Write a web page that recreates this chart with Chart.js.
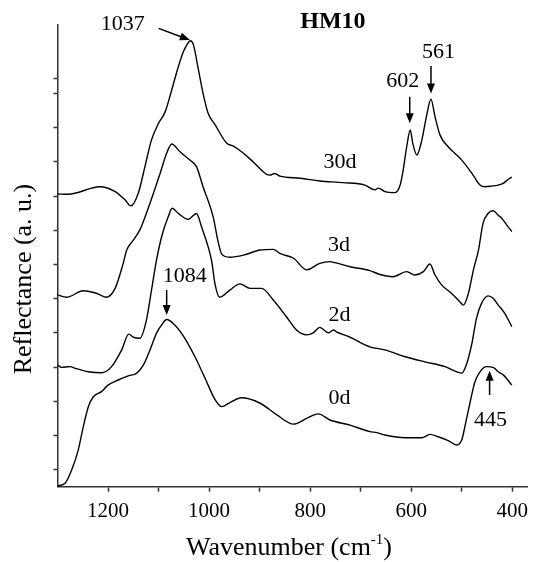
<!DOCTYPE html>
<html lang="en">
<head>
  <meta charset="UTF-8">
  <title>HM10 reflectance spectra</title>
  <style>
    body { margin: 0; background: #fff; }
    #spectra { display: block; }
  </style>
</head>
<body>
  <canvas id="spectra" width="534" height="562"></canvas>

  <script src="https://cdn.jsdelivr.net/npm/chart.js@4.4.1/dist/chart.umd.min.js"></script>
  <script>
// wavenumbers (cm-1) and reflectance (a. u., curves are offset)
const wn30 = [1300, 1279, 1216, 1186, 1166, 1155, 1140, 1127, 1114, 1100, 1087, 1074, 1061, 1051, 1044, 1037, 1031, 1021, 1012, 1002, 988, 965, 952, 932, 913, 886, 880, 870, 860, 820, 781, 735, 692, 672, 665, 652, 632, 622, 616, 609, 602, 597, 589, 579, 570, 561, 553, 543, 527, 514, 500, 480, 464, 454, 441, 428, 418, 408, 401];
const r30  = [8.56, 8.55, 8.77, 8.63, 8.38, 8.21, 8.59, 9.36, 10.14, 10.63, 10.96, 11.6, 12.28, 12.72, 12.92, 13.04, 12.92, 12.18, 11.5, 10.92, 10.58, 10.04, 9.96, 9.75, 9.5, 9.13, 9.11, 9.16, 9.08, 9.02, 8.94, 8.89, 8.82, 8.68, 8.73, 8.63, 8.6, 8.82, 9.26, 9.94, 10.43, 10.04, 9.7, 10.14, 10.82, 11.33, 10.82, 10.28, 9.94, 9.75, 9.55, 9.16, 8.82, 8.77, 8.79, 8.82, 8.87, 8.99, 9.05];

const wn3 = [1300, 1282, 1249, 1222, 1204, 1186, 1170, 1163, 1150, 1137, 1117, 1097, 1084, 1074, 1058, 1038, 1025, 1012, 992, 982, 975, 959, 932, 899, 873, 860, 833, 807, 781, 761, 751, 721, 682, 665, 636, 609, 593, 576, 563, 553, 540, 520, 504, 497, 487, 477, 467, 458, 448, 438, 428, 421, 411, 401];
const r3  = [5.61, 5.54, 5.73, 5.65, 5.54, 5.8, 6.53, 6.92, 7.21, 7.51, 8.29, 9.16, 9.75, 10.02, 9.8, 9.55, 9.36, 8.77, 7.89, 7.15, 6.8, 6.71, 6.77, 6.92, 6.94, 6.82, 6.68, 6.34, 6.53, 6.58, 6.55, 6.43, 6.32, 6.22, 6.14, 6.29, 6.19, 6.29, 6.51, 6.19, 5.9, 5.65, 5.41, 5.31, 5.65, 6.34, 6.92, 7.7, 7.99, 8.07, 7.94, 7.85, 7.65, 7.46];

const wn2 = [1300, 1292, 1275, 1265, 1239, 1213, 1193, 1173, 1159, 1150, 1137, 1124, 1114, 1104, 1094, 1081, 1073, 1061, 1041, 1025, 1015, 1002, 995, 988, 979, 959, 939, 919, 896, 873, 847, 827, 807, 794, 781, 764, 754, 748, 721, 682, 652, 612, 573, 533, 510, 500, 490, 480, 471, 461, 448, 438, 428, 415, 401];
const r2  = [3.56, 3.49, 3.51, 3.46, 3.36, 3.33, 3.51, 4.0, 4.46, 4.37, 4.34, 4.87, 5.75, 6.63, 7.31, 7.89, 8.14, 7.99, 7.82, 7.99, 7.6, 7.02, 6.6, 5.9, 5.54, 5.75, 5.93, 5.8, 5.8, 5.46, 4.97, 4.58, 4.44, 4.5, 4.66, 4.5, 4.58, 4.53, 4.37, 4.09, 4.0, 3.8, 3.65, 3.51, 3.36, 3.32, 3.61, 4.19, 4.92, 5.36, 5.58, 5.51, 5.31, 5.07, 4.68];

const wn0 = [1300, 1285, 1272, 1259, 1249, 1239, 1229, 1213, 1200, 1180, 1160, 1143, 1130, 1117, 1104, 1094, 1084, 1068, 1048, 1028, 1008, 988, 975, 959, 936, 899, 866, 833, 807, 784, 761, 721, 682, 668, 652, 612, 579, 563, 547, 527, 510, 500, 494, 484, 474, 464, 451, 438, 428, 418, 401];
const r0  = [0.02, 0.1, 0.49, 1.07, 1.75, 2.34, 2.63, 2.78, 2.97, 3.12, 3.24, 3.32, 3.56, 4.0, 4.49, 4.73, 4.89, 4.73, 4.34, 3.8, 3.17, 2.54, 2.34, 2.46, 2.6, 2.44, 2.1, 1.83, 2.0, 2.13, 1.95, 1.8, 1.61, 1.58, 1.51, 1.43, 1.43, 1.53, 1.46, 1.35, 1.22, 1.37, 1.75, 2.44, 3.07, 3.36, 3.51, 3.49, 3.36, 3.27, 2.97];

const xTicks = [400, 500, 600, 700, 800, 900, 1000, 1100, 1200];
const xTickLabels = [400, 600, 800, 1000, 1200];
const yTicks = [0.5, 1.5, 2.5, 3.5, 4.5, 5.5, 6.5, 7.5, 8.5, 9.5, 10.5, 11.5, 11.95];

const seriesNames = ['30d', '3d', '2d', '0d'];
const seriesTags = [
  {text: '30d', wn: 741, r: 9.49},
  {text: '3d',  wn: 743, r: 7.05},
  {text: '2d',  wn: 742, r: 5.02},
  {text: '0d',  wn: 742, r: 2.59}
];

// peak markers: label position and arrow (from -> tip), in data units
const peakMarks = [
  {text: '1037', lx: 1171, ly: 13.51, from: [1100, 13.40], to: [1038, 13.06]},
  {text: '561',  lx: 546,  ly: 12.70, from: [561, 12.30], to: [561, 11.50]},
  {text: '602',  lx: 617,  ly: 11.85, from: [603, 11.40], to: [603, 10.63]},
  {text: '1084', lx: 1048, ly: 6.14,  from: [1084, 5.75], to: [1084, 5.02]},
  {text: '445',  lx: 443,  ly: 1.94,  from: [445, 2.68],  to: [445, 3.39]}
];

const serif = "'Liberation Serif', 'Times New Roman', serif";

function pts(xs, ys) {
  return xs.map((x, i) => ({x: x, y: ys[i]}));
}

const overlay = {
  id: 'overlay',
  afterDraw(chart) {
    const ctx = chart.ctx;
    const xs = chart.scales.x, ys = chart.scales.y;
    const px = v => xs.getPixelForValue(v);
    const py = v => ys.getPixelForValue(v);
    ctx.save();
    ctx.fillStyle = '#000';
    ctx.strokeStyle = '#000';
    ctx.textAlign = 'center';
    ctx.textBaseline = 'middle';

    ctx.font = '22px ' + serif;
    seriesTags.forEach(t => ctx.fillText(t.text, px(t.wn), py(t.r)));

    peakMarks.forEach(m => {
      ctx.font = '22px ' + serif;
      ctx.fillText(m.text, px(m.lx), py(m.ly));
      const x1 = px(m.from[0]), y1 = py(m.from[1]);
      const x2 = px(m.to[0]), y2 = py(m.to[1]);
      const a = Math.atan2(y2 - y1, x2 - x1);
      const hl = 10, hw = 4;
      ctx.lineWidth = 1.5;
      ctx.beginPath();
      ctx.moveTo(x1, y1);
      ctx.lineTo(x2 - Math.cos(a) * hl * 0.8, y2 - Math.sin(a) * hl * 0.8);
      ctx.stroke();
      ctx.beginPath();
      ctx.moveTo(x2, y2);
      ctx.lineTo(x2 - Math.cos(a) * hl - Math.sin(a) * hw, y2 - Math.sin(a) * hl + Math.cos(a) * hw);
      ctx.lineTo(x2 - Math.cos(a) * hl + Math.sin(a) * hw, y2 - Math.sin(a) * hl - Math.cos(a) * hw);
      ctx.closePath();
      ctx.fill();
    });

    // sample name
    ctx.font = 'bold 24px ' + serif;
    ctx.fillText('HM10', px(755), py(13.59));

    // x axis title with superscript
    const main = 'Wavenumber (cm', sup = '-1', tail = ')';
    ctx.font = '26px ' + serif;
    const w1 = ctx.measureText(main).width, w3 = ctx.measureText(tail).width;
    ctx.font = '15px ' + serif;
    const w2 = ctx.measureText(sup).width;
    const cx = 289;
    let sx = cx - (w1 + w2 + w3) / 2;
    const ty = 547;
    ctx.textAlign = 'left';
    ctx.textBaseline = 'alphabetic';
    ctx.font = '26px ' + serif;
    ctx.fillText(main, sx, ty + 8);
    ctx.font = '15px ' + serif;
    ctx.fillText(sup, sx + w1, ty - 3);
    ctx.font = '26px ' + serif;
    ctx.fillText(tail, sx + w1 + w2, ty + 8);

    // y axis title
    ctx.translate(24, 279);
    ctx.rotate(-Math.PI / 2);
    ctx.textAlign = 'center';
    ctx.textBaseline = 'middle';
    ctx.font = '26px ' + serif;
    ctx.fillText('Reflectance (a. u.)', 0, 0);
    ctx.restore();
  }
};

const lineStyle = {borderColor: '#000', borderWidth: 1.4, pointRadius: 0, cubicInterpolationMode: 'monotone', fill: false};

new Chart('spectra', {
  type: 'line',
  data: {
    datasets: [
      Object.assign({label: seriesNames[0], data: pts(wn30, r30)}, lineStyle),
      Object.assign({label: seriesNames[1], data: pts(wn3, r3)}, lineStyle),
      Object.assign({label: seriesNames[2], data: pts(wn2, r2)}, lineStyle),
      Object.assign({label: seriesNames[3], data: pts(wn0, r0)}, lineStyle)
    ]
  },
  options: {
    responsive: false,
    animation: false,
    layout: {padding: {top: 25, right: 6.5, left: 0, bottom: 0}},
    plugins: {legend: {display: false}, tooltip: {enabled: false}},
    scales: {
      x: {
        type: 'linear',
        reverse: true,
        min: 370,
        max: 1300,
        afterBuildTicks: s => { s.ticks = xTicks.map(v => ({value: v})); },
        afterFit: s => { s.height = 75.3; },
        grid: {drawOnChartArea: false, drawTicks: true, tickLength: 5, tickColor: '#333', tickWidth: 1.5},
        border: {color: '#333', width: 1.5},
        ticks: {
          autoSkip: false,
          maxRotation: 0,
          padding: 7,
          color: '#000',
          font: {family: serif, size: 21},
          callback: v => xTickLabels.includes(v) ? String(v) : ''
        }
      },
      y: {
        min: 0,
        max: 13.5,
        afterBuildTicks: s => { s.ticks = yTicks.map(v => ({value: v})); },
        afterFit: s => { s.width = 57.5; },
        grid: {drawOnChartArea: false, drawTicks: true, tickLength: 4, tickColor: '#333', tickWidth: 1.5},
        border: {color: '#333', width: 1.5},
        ticks: {display: false}
      }
    }
  },
  plugins: [overlay]
});
  </script>
</body>
</html>
